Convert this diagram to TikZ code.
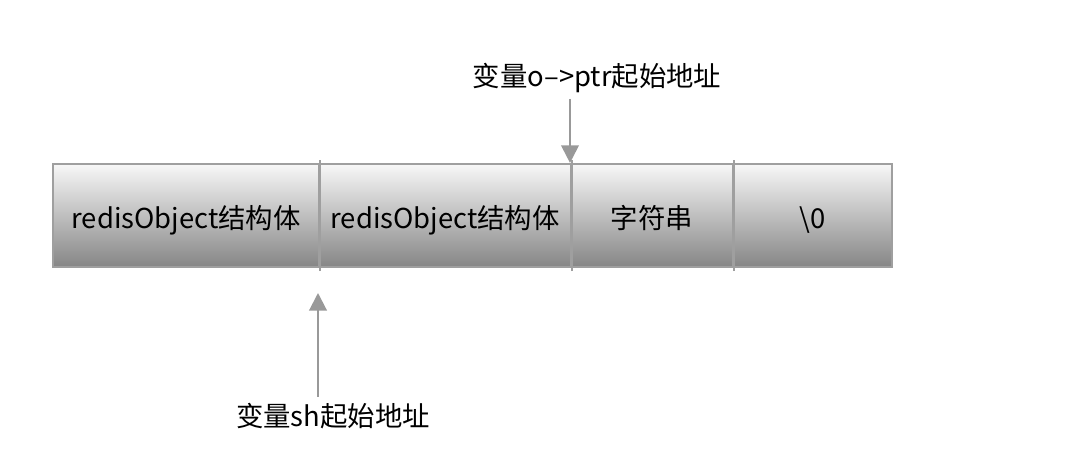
\documentclass[tikz,border=0pt]{standalone}
\usepackage{fontspec}
\setmainfont{Noto Sans CJK SC}
\usetikzlibrary{arrows.meta}
\tikzset{
  cell/.style={draw=gray!75,line width=1.2pt,top color=gray!6,bottom color=gray!95,
    minimum height=2.06cm,inner sep=0pt,text height=17pt,text depth=2pt,
    font=\fontsize{15.6}{18}\selectfont},
  divider/.style={draw=gray!75,line width=1.2pt},
  ptrarrow/.style={draw=gray!80,line width=1.2pt,-{Triangle[width=10pt,length=10pt]}},
  addr/.style={font=\fontsize{15.6}{18}\selectfont}
}
\begin{document}
\begin{tikzpicture}[x=0.02cm,y=0.02cm]
\useasboundingbox (0,0) rectangle (1078,468);
\foreach \name/\xa/\xb/\lab in {c1/52/318/{redisObject结构体},c2/318/570/{redisObject结构体},
  c3/570/732/{字符串},c4/732/891/{\textbackslash 0}}{
  \node[cell,minimum width=(\xb-\xa)*0.02cm,anchor=south west] (\name) at (\xa,200) {\lab};
}
\foreach \name in {c1,c2,c3}{
  \draw[divider] ([yshift=-3*0.02cm]\name.south east) -- ([yshift=3*0.02cm]\name.north east);
}
\node[addr] (ptr) at (597,390) {变量o–>ptr起始地址};
\node[addr] (sh) at (333,52) {变量sh起始地址};
\coordinate (shtip) at (318,175);
\draw[ptrarrow] (c3.north west |- ptr.south) -- (c3.north west);
\draw[ptrarrow] (shtip |- sh.north) -- (shtip);
\end{tikzpicture}
\end{document}
